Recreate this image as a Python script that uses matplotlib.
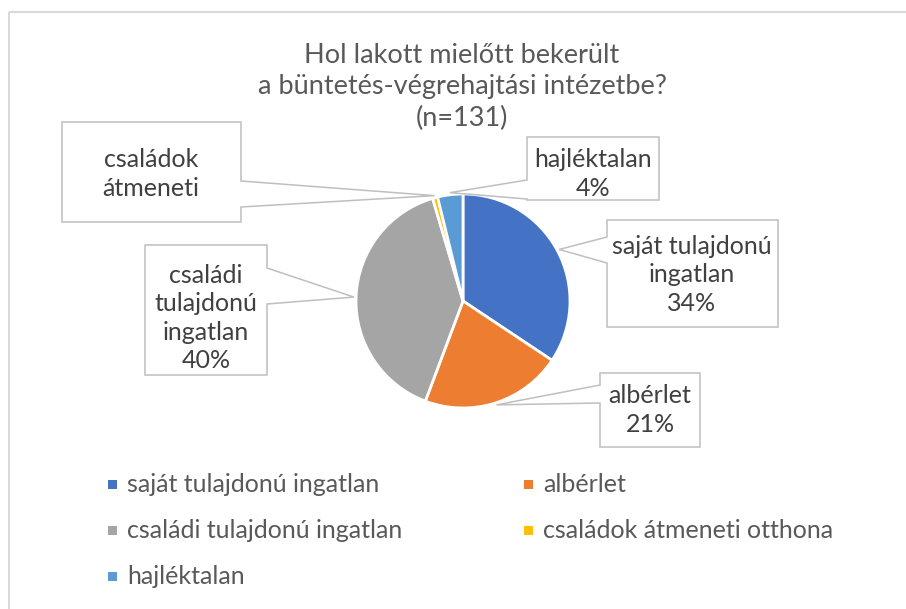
import matplotlib
matplotlib.use("Agg")
import matplotlib.pyplot as plt
import numpy as np
from matplotlib.patches import Polygon, Rectangle

plt.rcParams["font.family"] = ["Lato", "DejaVu Sans"]

W, H = 906, 609

# data (n=131)
categories = ["saját tulajdonú ingatlan", "albérlet", "családi tulajdonú ingatlan",
              "családok átmeneti otthona", "hajléktalan"]
counts = [45, 28, 52, 1, 5]
box_texts = ["saját tulajdonú\ningatlan", "albérlet", "családi\ntulajdonú\ningatlan",
             "családok\nátmeneti", "hajléktalan"]
show_pct = [True, True, True, False, True]

COLORS = ["#4472C4", "#ED7D31", "#A5A5A5", "#FFC000", "#5B9BD5"]
TXT_TITLE = "#595959"
TXT_LABEL = "#404040"
EDGE = "#BFBFBF"
FS = 18
FS_TITLE = 19.5

# callout layout in pixels (y down): box (L, T, R, B), tail side, tail y range, text centre
callouts = [
    ((607, 220, 778, 327), "left", 237, 263, (692, 275)),
    ((600, 373, 700, 447), "left", 385, 403, (650, 410)),
    ((145, 245, 267, 375), "right", 268, 304, (206, 318)),
    ((62, 122, 241, 222), "right", 181, 207, (151, 174)),
    ((527, 137, 659, 200), "left", 180, 199, (593, 174)),
]

fig = plt.figure(figsize=(W / 100, H / 100), dpi=100)
fig.patch.set_facecolor("white")
ax = fig.add_axes([0, 0, 1, 1])

cx, cy, r = 463, 301, 107
# y axis is inverted, so counterclock in data = clockwise on screen
wedges, _ = ax.pie(counts, colors=COLORS, center=(cx, cy), radius=r,
                   startangle=-90, counterclock=True,
                   wedgeprops=dict(edgecolor="white", linewidth=2))
ax.set_xlim(0, W)
ax.set_ylim(H, 0)
ax.set_aspect("equal")
ax.axis("off")

total = sum(counts)
for w, txt, pct, ok, (box, side, ya, yb, tc) in zip(wedges, box_texts, counts, show_pct, callouts):
    mid = np.deg2rad((w.theta1 + w.theta2) / 2)
    tip = (cx + 1.02 * r * np.cos(mid), cy + 1.02 * r * np.sin(mid))
    L, T, R, B = box
    if side == "left":
        pts = [(L, T), (R, T), (R, B), (L, B), (L, yb), tip, (L, ya)]
    else:
        pts = [(L, T), (R, T), (R, ya), tip, (R, yb), (R, B), (L, B)]
    ax.add_patch(Polygon(pts, closed=True, facecolor="white", edgecolor=EDGE,
                         linewidth=1.1, zorder=3))
    label = txt + (f"\n{round(100 * pct / total)}%" if ok else "")
    ax.text(tc[0], tc[1], label, ha="center", va="center", fontsize=FS,
            color=TXT_LABEL, linespacing=1.28, zorder=4)

# title
ax.text(462, 87, "Hol lakott mielőtt bekerült\na büntetés-végrehajtási intézetbe?\n(n=131)",
        ha="center", va="center", fontsize=FS_TITLE, color=TXT_TITLE, linespacing=1.32)

# legend, row-major in two columns
col_x = [112, 528]
for i, (name, c) in enumerate(zip(categories, COLORS)):
    x = col_x[i % 2]
    y = 484 + 46 * (i // 2)
    ax.add_patch(Rectangle((x - 4.5, y - 4.5), 9, 9, facecolor=c, edgecolor="none"))
    ax.text(x + 15, y, name, ha="left", va="center", fontsize=FS, color=TXT_TITLE)

# chart area border (only top and left edges visible)
ax.plot([9, W], [12, 12], color="#D9D9D9", linewidth=1.5, solid_capstyle="butt")
ax.plot([9, 9], [12, H], color="#D9D9D9", linewidth=1.5, solid_capstyle="butt")

fig.savefig("out.png", dpi=100, facecolor="white")
